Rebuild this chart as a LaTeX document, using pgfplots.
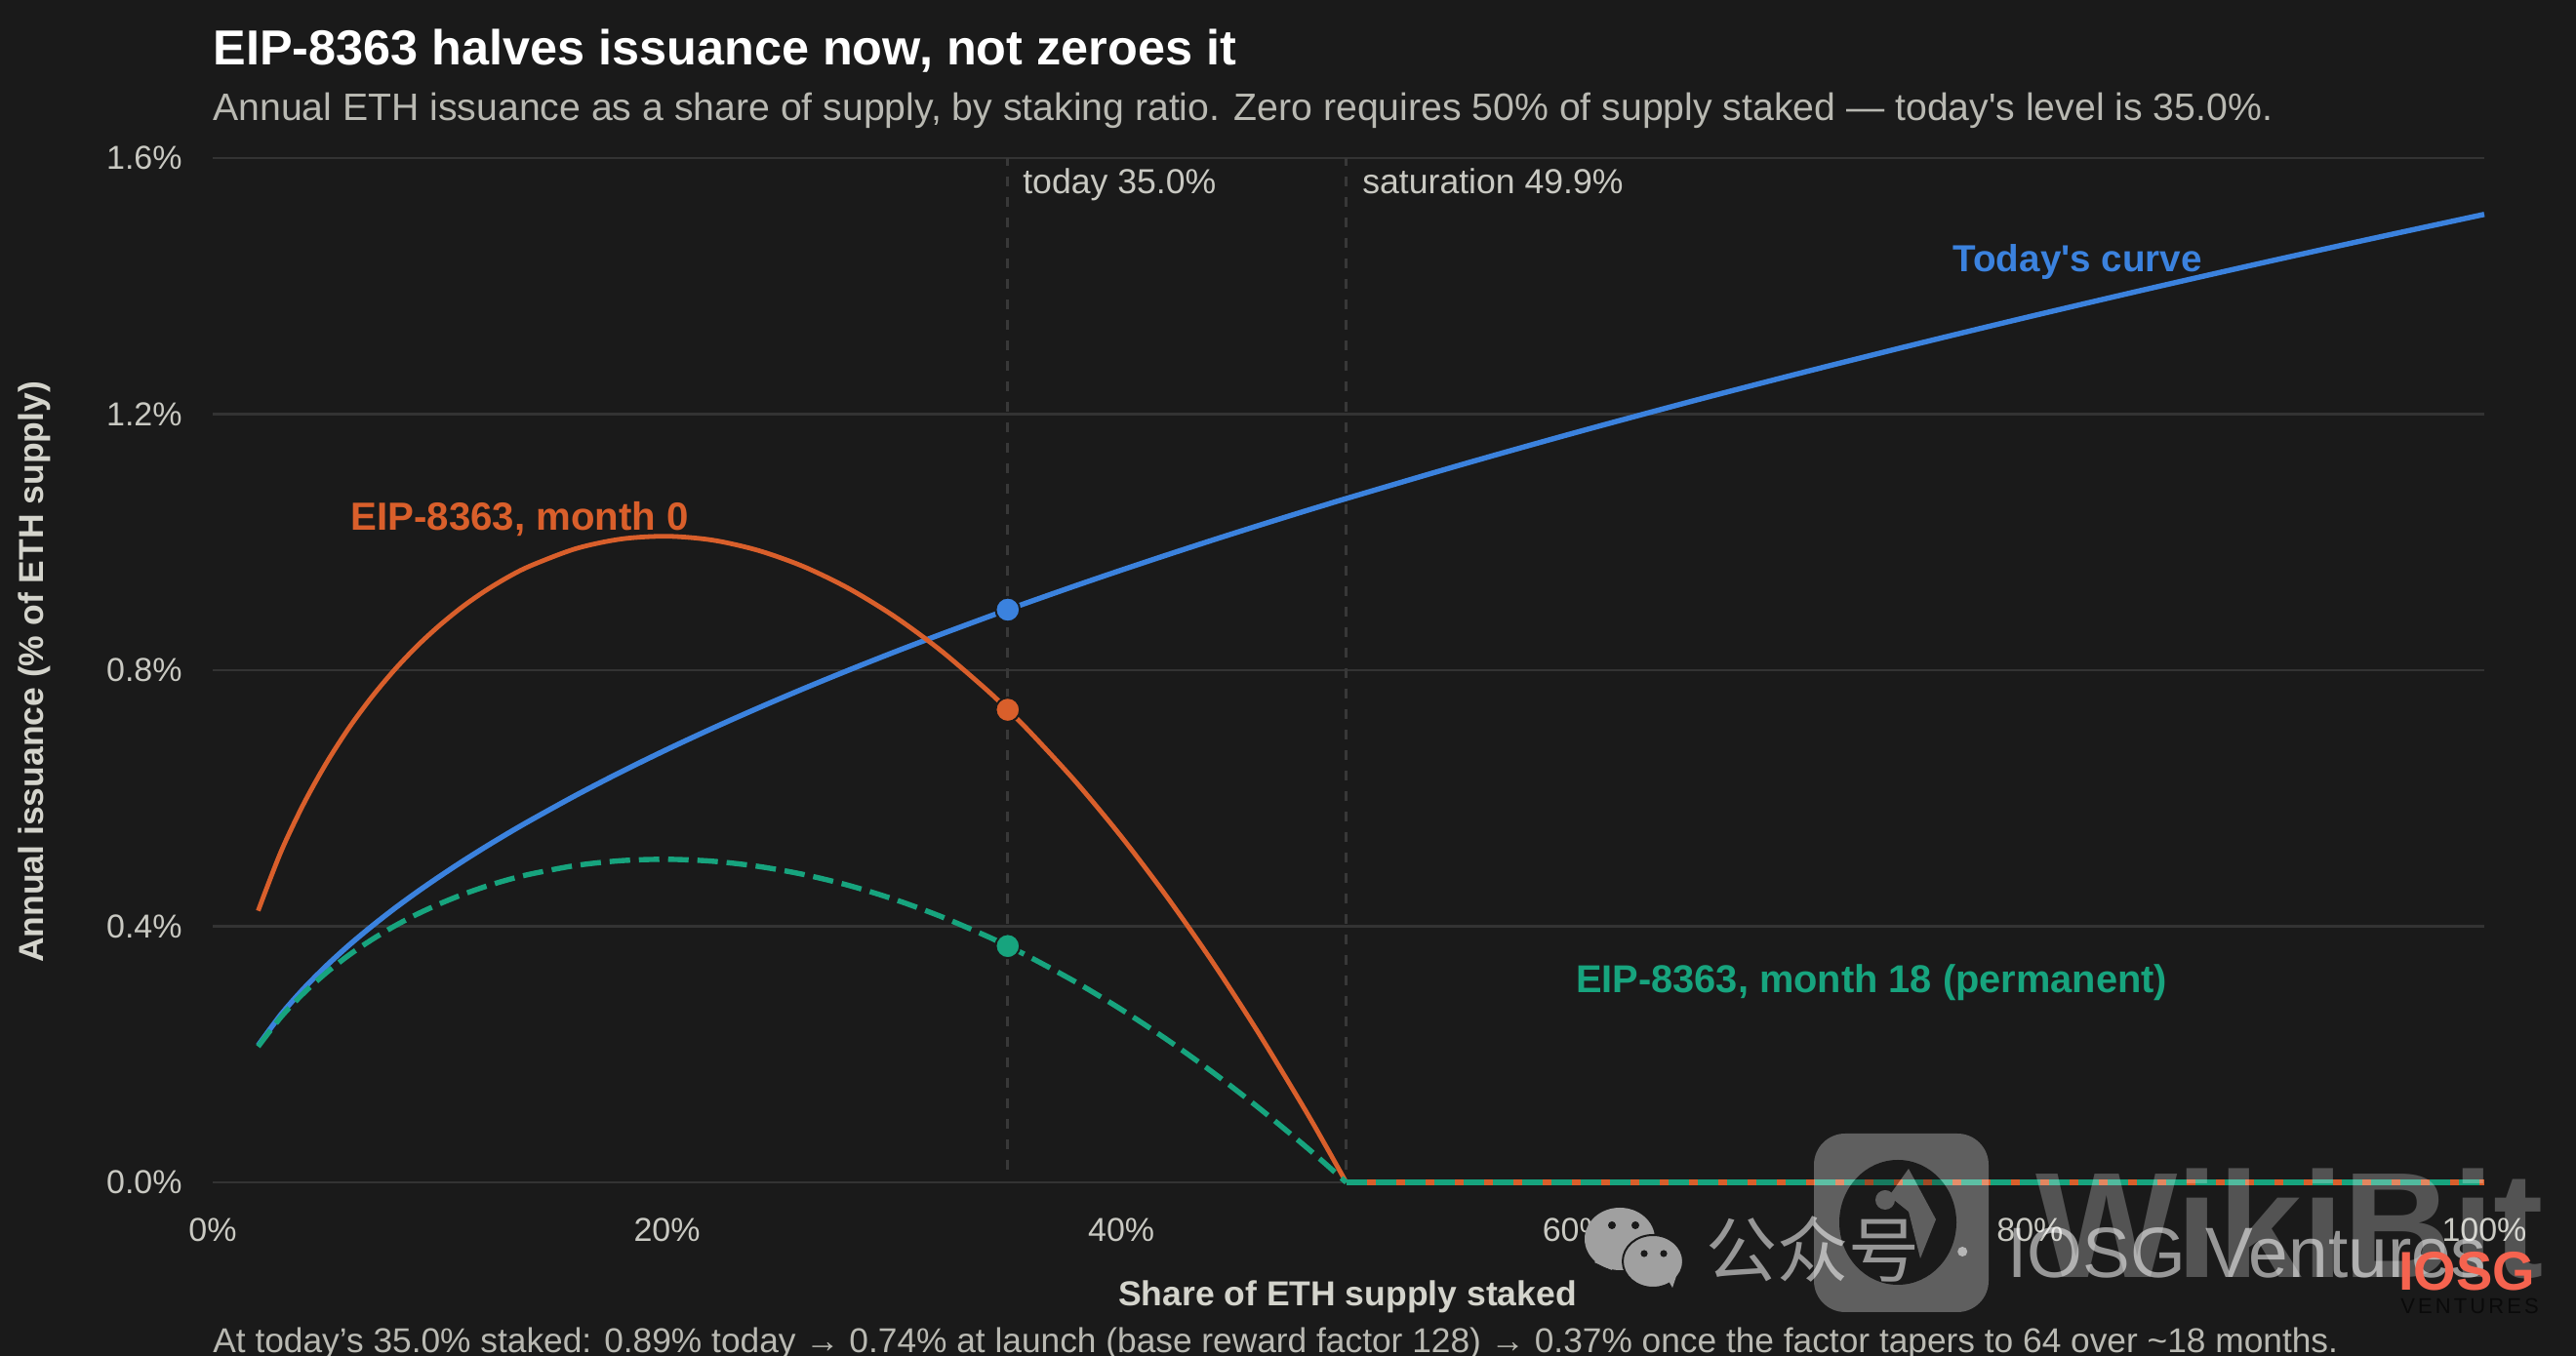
\documentclass[border=0pt]{standalone}
\usepackage{fontspec}
\setmainfont{Liberation Sans}
\newfontfamily\rawf{Liberation Sans}
\newfontfamily\cjk{Noto Sans CJK SC}
\newcommand\sq{{\rawf '}}
\usepackage{pgfplots}
\usepackage{pgfplotstable}
\pgfplotsset{compat=1.18}
\definecolor{bg}{HTML}{1A1A1A}
\definecolor{gridc}{HTML}{333333}
\definecolor{tickc}{HTML}{C9C9C2}
\definecolor{subc}{HTML}{B9B9B2}
\definecolor{boldc}{HTML}{D4D4CC}
\definecolor{vlinec}{HTML}{383838}
\definecolor{bluec}{HTML}{3B82DE}
\definecolor{orangec}{HTML}{D95F2B}
\definecolor{greenc}{HTML}{17A47E}
\definecolor{iosgred}{HTML}{F5634F}
\definecolor{wechatc}{HTML}{A0A0A0}
\definecolor{ventc}{HTML}{0A0A0A}
\pgfplotstableread{
x today mzero meighteen
2 .2138 .4242 .2121
3 .2619 .5160 .2580
4 .3024 .5910 .2955
5 .3381 .6548 .3274
6 .3704 .7100 .3550
7 .4000 .7580 .3790
8 .4277 .8004 .4002
9 .4536 .8378 .4189
10 .4781 .8704 .4352
11 .5015 .8992 .4496
12 .5238 .9240 .4620
13 .5452 .9454 .4727
14 .5657 .9632 .4816
16 .6048 .9900 .4950
18 .6415 1.0050 .5025
20 .6762 1.0092 .5046
22 .7092 1.0032 .5016
24 .7407 .9872 .4936
26 .7710 .9620 .4810
28 .8001 .9276 .4638
30 .8282 .8842 .4421
32 .8553 .8322 .4161
34 .8816 .7716 .3858
35 .8945 .7382 .3691
36 .9072 .7026 .3513
38 .9321 .6254 .3127
40 .9563 .5400 .2700
42 .9799 .4464 .2232
44 1.0030 .3450 .1725
46 1.0255 .2356 .1178
48 1.0476 .1186 .0593
49 1.0584 .0570 .0285
49.9 1.0681 0 0
55 1.1213 0 0
60 1.1712 0 0
65 1.2190 0 0
70 1.2650 0 0
75 1.3094 0 0
80 1.3524 0 0
85 1.3940 0 0
90 1.4344 0 0
95 1.4737 0 0
100 1.5120 0 0
}\issuance
\newcommand\fs[1]{\fontsize{#1}{#1}\selectfont}
\begin{document}
\begin{tikzpicture}[x=1pt,y=1pt]
\fill[bg,use as bounding box] (0,0) rectangle (1320,695);
\begin{axis}[
  at={(109pt,89pt)}, anchor=south west, scale only axis,
  width=1164pt, height=525pt,
  xmin=0, xmax=100, ymin=0, ymax=1.6, clip=false,
  axis line style={draw=none}, major tick length=0pt,
  xtick={0,20,40,60,80,100},
  xticklabels={0\%,20\%,40\%,60\%,80\%,100\%},
  ytick={0,0.4,0.8,1.2,1.6},
  yticklabels={0.0\%,0.4\%,0.8\%,1.2\%,1.6\%},
  ymajorgrids, grid style={gridc,line width=1.2pt},
  x tick label style={anchor=base,yshift=-30.5pt,text=tickc,font=\fs{17}},
  y tick label style={anchor=mid east,inner sep=0pt,xshift=-15.5pt,yshift=-3.3pt,text=tickc,font=\fs{17}},
]
\addplot[vlinec,line width=1.4pt,dash pattern=on 5pt off 5.5pt] coordinates {(35,0.02) (35,1.6)};
\addplot[vlinec,line width=1.4pt,dash pattern=on 5pt off 5.5pt] coordinates {(49.9,0.02) (49.9,1.6)};
\addplot[bluec,line width=2.7pt,smooth,tension=0.5,line join=round] table[x=x,y=today] {\issuance};
\addplot[orangec,line width=2.4pt,smooth,tension=0.5,restrict x to domain=2:49.9] table[x=x,y=mzero] {\issuance};
\addplot[orangec,line width=2.7pt,restrict x to domain=49.9:100] table[x=x,y=mzero] {\issuance};
\addplot[greenc,line width=2.7pt,smooth,tension=0.5,dash pattern=on 10.5pt off 4.5pt,restrict x to domain=2:49.9] table[x=x,y=meighteen] {\issuance};
\addplot[greenc,line width=2.7pt,dash pattern=on 10.5pt off 4.5pt,restrict x to domain=49.9:100] table[x=x,y=meighteen] {\issuance};
\addplot[only marks,mark=*,mark size=6.2pt,mark options={fill=bluec,draw=bg,line width=1pt}] coordinates {(35,0.8945)};
\addplot[only marks,mark=*,mark size=6.2pt,mark options={fill=orangec,draw=bg,line width=1pt}] coordinates {(35,0.7382)};
\addplot[only marks,mark=*,mark size=6.2pt,mark options={fill=greenc,draw=bg,line width=1pt}] coordinates {(35,0.3691)};
\node[anchor=mid west,inner sep=0pt,text=tickc,font=\fs{17.8}] at (axis cs:35.65,1.553) {today 35.0\%};
\node[anchor=mid west,inner sep=0pt,text=tickc,font=\fs{17.8}] at (axis cs:50.6,1.553) {saturation 49.9\%};
\node[anchor=mid west,inner sep=0pt,text=bluec,font=\fs{19.3}\bfseries] at (axis cs:76.6,1.431) {Today\sq s curve};
\node[anchor=mid west,inner sep=0pt,text=orangec,font=\fs{20.1}\bfseries] at (axis cs:6.06,1.026) {EIP-8363, month 0};
\node[anchor=mid west,inner sep=0pt,text=greenc,font=\fs{19.9}\bfseries] at (axis cs:60,0.304) {EIP-8363, month 18 (permanent)};
\end{axis}
\node[anchor=mid west,inner sep=0pt,text=white,font=\fs{25.2}\bfseries] at (109,664.5) {EIP-8363 halves issuance now, not zeroes it};
\node[anchor=mid west,inner sep=0pt,text=subc,font=\fs{19.6}] at (109,636) {Annual ETH issuance as a share of supply, by staking ratio. Zero requires 50\% of supply staked — today\sq s level is 35.0\%.};
\node[inner sep=0pt,text=boldc,font=\fs{17.75}\bfseries] at (690.5,30.5) {Share of ETH supply staked};
\node[rotate=90,inner sep=0pt,text=boldc,font=\fs{17.75}\bfseries] at (17.5,350.5) {Annual issuance (\% of ETH supply)};
\node[anchor=mid west,inner sep=0pt,text=subc,font=\fs{17.65}] at (109,4.5) {At today’s 35.0\% staked: 0.89\% today → 0.74\% at launch (base reward factor 128) → 0.37\% once the factor tapers to 64 over \textasciitilde18 months.};
% watermarks
\begin{scope}[transparency group,opacity=0.30]
\fill[white,rounded corners=16pt] (929.5,22.5) rectangle (1019,114);
\fill[bg] (972.5,68.5) ellipse (30 and 32);
\fill[white] (968,82) -- (978,96) -- (992,70) -- (984,50) -- (978,74) -- cycle;
\fill[white] (966,80) circle (5);
\end{scope}
\begin{scope}[opacity=0.25]
\node[inner sep=0pt,text=white,font=\fs{77}\bfseries,anchor=base west] at (1043,40) {WikiBit};
\end{scope}
\fill[wechatc] (830,60) ellipse (18 and 16);
\fill[wechatc] (817,48) -- (826,44) -- (822,53) -- cycle;
\fill[bg] (826,67) circle (2);
\fill[bg] (838,67) circle (2);
\fill[wechatc,draw=bg,line width=1pt] (847,48.5) ellipse (15.5 and 13.5);
\fill[wechatc] (857,35) -- (853,42) -- (859,41) -- cycle;
\fill[bg] (842.5,52.5) circle (1.8);
\fill[bg] (852.5,52.5) circle (1.8);
\begin{scope}[opacity=0.55]
\node[inner sep=0pt,text=white,font=\cjk\fs{36.5},anchor=west] at (874,54.5) {公众号};
\fill[white] (1005.6,53.5) circle (2.5);
\node[inner sep=0pt,text=white,font=\fs{36.5},anchor=base west] at (1028.5,40) {IOSG Ventures};
\end{scope}
\node[inner sep=0pt,text=iosgred,font=\fs{28}\bfseries,anchor=base west] at (1229,33.5) {IOSG};
\node[inner sep=0pt,text=ventc,font=\fs{11}\addfontfeature{LetterSpace=14},anchor=base west] at (1230,21.5) {VENTURES};
\end{tikzpicture}
\end{document}
